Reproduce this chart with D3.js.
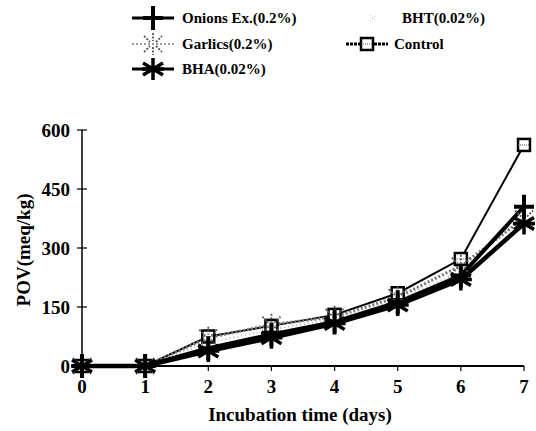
<!DOCTYPE html>
<html>
<head>
<meta charset="utf-8">
<script src="https://cdn.jsdelivr.net/npm/d3@7"></script>
<style>
  body { margin: 0; background: #fff; }
</style>
</head>
<body>
<div id="chart"></div>
<script>
// data
const days = [0, 1, 2, 3, 4, 5, 6, 7];
const control = [0, 0, 75, 102, 130, 185, 272, 562];
const garlics = [0, 0, 72, 105, 125, 175, 255, 375];
const bht = [0, 0, 60, 92, 120, 170, 240, 385];
const onions = [0, 0, 45, 80, 112, 162, 230, 405];
const bha = [0, 0, 38, 72, 108, 155, 220, 362];
const yTicks = [0, 150, 300, 450, 600];

const width = 536, height = 431;
const margin = { top: 130, right: 12, bottom: 65, left: 82 };
const serif = "'Liberation Serif', 'Times New Roman', 'DejaVu Serif', serif";

const svg = d3.select("#chart").append("svg")
  .attr("width", width)
  .attr("height", height)
  .attr("font-family", serif)
  .attr("font-weight", "bold");

const x = d3.scaleLinear().domain([0, 7]).range([margin.left, 524]);
const y = d3.scaleLinear().domain([0, 600]).range([height - margin.bottom, margin.top]);

// marker shapes
function drawMarker(g, type, cx, cy) {
  const m = g.append("g").attr("transform", `translate(${cx},${cy})`);
  if (type == "plus") {
    m.append("path").attr("d", "M0,-12V12M-10,0H10")
      .attr("stroke", "#000").attr("stroke-width", 4);
  } else if (type == "star") {
    m.append("path").attr("d", "M0,-11V11M-10,-6L10,6M-10,6L10,-6M-11,0H11")
      .attr("stroke", "#000").attr("stroke-width", 3.5);
  } else if (type == "square") {
    m.append("rect").attr("x", -6).attr("y", -6).attr("width", 12).attr("height", 12)
      .attr("fill", "#fff").attr("stroke", "#000").attr("stroke-width", 2.5);
    m.append("path").attr("d", "M-6,0H6").attr("stroke", "#555").attr("stroke-width", 1).attr("stroke-dasharray", "1,1");
  } else if (type == "xstar") {
    m.append("path").attr("d", "M0,-11V-3M0,3V11M-9,-8L-3,-2M3,2L9,8M-9,8L-3,2M3,-2L9,-8")
      .attr("stroke", "#555").attr("stroke-width", 1.8).attr("stroke-dasharray", "2,1.5");
  } else if (type == "dots") {
    m.append("path").attr("d", "M-3,-3L3,3M-3,3L3,-3")
      .attr("stroke", "#bbb").attr("stroke-width", 1).attr("stroke-dasharray", "1,2");
  }
}

const series = [
  { name: "Control", values: control, stroke: "#000", sw: 2, dash: null, marker: "square" },
  { name: "Garlics(0.2%)", values: garlics, stroke: "#777", sw: 3, dash: "2,2", marker: "xstar" },
  { name: "BHT(0.02%)", values: bht, stroke: "#bbb", sw: 2, dash: "1,3", marker: "dots" },
  { name: "Onions Ex.(0.2%)", values: onions, stroke: "#000", sw: 4, dash: null, marker: "plus" },
  { name: "BHA(0.02%)", values: bha, stroke: "#000", sw: 4.5, dash: null, marker: "star" }
];

// axes
const axisY = svg.append("g").attr("transform", `translate(${margin.left},0)`);
axisY.append("line").attr("x1", 0).attr("x2", 0).attr("y1", y(600)).attr("y2", y(0))
  .attr("stroke", "#000").attr("stroke-width", 1.5);
axisY.selectAll(".tk").data(yTicks).enter().append("line")
  .attr("x1", -5).attr("x2", 5).attr("y1", d => y(d)).attr("y2", d => y(d))
  .attr("stroke", "#000").attr("stroke-width", 1.2);
axisY.selectAll(".lb").data(yTicks).enter().append("text")
  .attr("x", -12).attr("y", d => y(d)).attr("dy", "0.35em")
  .attr("text-anchor", "end").attr("font-size", 19).text(d => d);

const axisX = svg.append("g").attr("transform", `translate(0,${y(0)})`);
axisX.append("line").attr("x1", x(0) - 10).attr("x2", x(7)).attr("stroke", "#000").attr("stroke-width", 2);
axisX.selectAll(".tk").data(days).enter().append("line")
  .attr("x1", d => x(d)).attr("x2", d => x(d)).attr("y1", 0).attr("y2", 5)
  .attr("stroke", "#000").attr("stroke-width", 1.2);
axisX.selectAll(".lb").data(days).enter().append("text")
  .attr("x", d => x(d)).attr("y", 27)
  .attr("text-anchor", "middle").attr("font-size", 19).text(d => d);

svg.append("text").attr("x", 300).attr("y", 421)
  .attr("text-anchor", "middle").attr("font-size", 19)
  .text("Incubation time (days)");

svg.append("text").attr("transform", "rotate(-90)")
  .attr("x", -250).attr("y", 30)
  .attr("text-anchor", "middle").attr("font-size", 19)
  .text("POV(meq/kg)");

// lines + markers
const line = d3.line().x((d, i) => x(days[i])).y(d => y(d));
const plot = svg.append("g");
series.forEach(s => {
  plot.append("path").datum(s.values)
    .attr("d", line)
    .attr("fill", "none")
    .attr("stroke", s.stroke)
    .attr("stroke-width", s.sw)
    .attr("stroke-dasharray", s.dash);
});
series.forEach(s => {
  s.values.forEach((v, i) => drawMarker(plot, s.marker, x(days[i]), y(v)));
});

// legend
const legendItems = [
  { s: series[3], lx: 132, ly: 18, tx: 182 },
  { s: series[2], lx: 352, ly: 18, tx: 402 },
  { s: series[1], lx: 132, ly: 44, tx: 182 },
  { s: series[0], lx: 346, ly: 44, tx: 394 },
  { s: series[4], lx: 132, ly: 69, tx: 182 }
];
const legend = svg.append("g");
legendItems.forEach(it => {
  const s = it.s;
  if (s.marker != "dots") {
    legend.append("line").attr("x1", it.lx).attr("x2", it.lx + 42)
      .attr("y1", it.ly).attr("y2", it.ly)
      .attr("stroke", s.stroke).attr("stroke-width", s.sw > 3 ? 3 : (s.marker == "square" ? 3 : 1.5))
      .attr("stroke-dasharray", s.marker == "square" ? "3,1" : s.dash);
  }
  drawMarker(legend, s.marker, it.lx + 21, it.ly);
  legend.append("text").attr("x", it.tx).attr("y", it.ly).attr("dy", "0.35em")
    .attr("font-size", 15).text(s.name);
});
</script>
</body>
</html>
